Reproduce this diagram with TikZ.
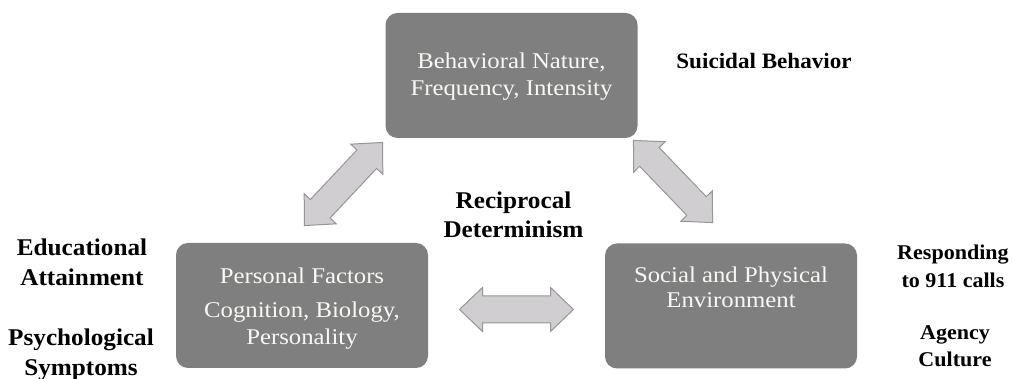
\documentclass[tikz,border=0pt]{standalone}
\usepackage{fontspec}
\setmainfont{Liberation Serif}
\newfontfamily\boxfont{Liberation Serif}[FakeStretch=1.1]
\newfontfamily\tagfont{Liberation Serif}[FakeStretch=1.05]
\definecolor{boxgray}{RGB}{127,127,127}
\definecolor{arrowfill}{RGB}{208,206,208}
\definecolor{arrowline}{RGB}{150,150,150}
\definecolor{boxtext}{RGB}{248,248,244}

\begin{document}
\begin{tikzpicture}[x=1pt,y=1pt,
  factor/.style={draw=none, fill=boxgray, rounded corners=12pt,
    minimum width=252pt, minimum height=125pt, inner sep=0pt},
  factortext/.style={anchor=north, inner sep=0pt, align=center, text=boxtext,
    font=\boxfont\fontsize{22.5}{27}\selectfont},
  tag/.style={anchor=north, inner sep=0pt, align=center,
    font=\tagfont\bfseries\fontsize{24}{30}\selectfont},
  smalltag/.style={tag, font=\tagfont\bfseries\fontsize{21}{28}\selectfont},
  dblarrow/.pic={
    \draw[line width=1pt, draw=arrowline, fill=arrowfill, line join=miter]
      (-57,0) -- (-34,22) -- (-34,13.5) -- (34,13.5) -- (34,22) -- (57,0)
      -- (34,-22) -- (34,-13.5) -- (-34,-13.5) -- (-34,-22) -- cycle;}
]
% canvas
\fill[white] (0,0) rectangle (1013,379);
\useasboundingbox (0,0) rectangle (1013,379);

% the three factors of the triad
\node[factor] (behavior) at (511.5,303.5) {};
\node[factortext] (behaviortext) at (511.5,326.4)
  {Behavioral Nature,\\Frequency, Intensity};

\node[factor] (personal) at (302,73.5) {};
\node[factortext] (personaltext) at (302,111.4)
  {Personal Factors\\[7pt]Cognition, Biology,\\Personality};

\node[factor] (environment) at (731,73) {};
\node[factortext] (environmenttext) at (731,112.4)
  {Social and Physical\\[-2pt]Environment};

% two-way influences
\pic[rotate=46.8] at (343.5,195) {dblarrow};
\pic[rotate=-46.1] at (673,197.5) {dblarrow};
\pic at (516.5,69.5) {dblarrow};

% annotations
\node[tag, font=\tagfont\bfseries\fontsize{22}{30}\selectfont]
  (suicidal) at (764,325.9) {Suicidal Behavior};
\node[tag] (reciprocal) at (513.5,187.2) {Reciprocal\\[-1pt]Determinism};
\node[tag] (education) at (82,140.2) {Educational\\Attainment};
\node[tag] (symptoms) at (81,50.2) {Psychological\\Symptoms};
\node[smalltag] (responding) at (953,134.2) {Responding\\to 911 calls};
\node[smalltag] (agency) at (955,53.2) {Agency\\[-1pt]Culture};
\end{tikzpicture}
\end{document}
